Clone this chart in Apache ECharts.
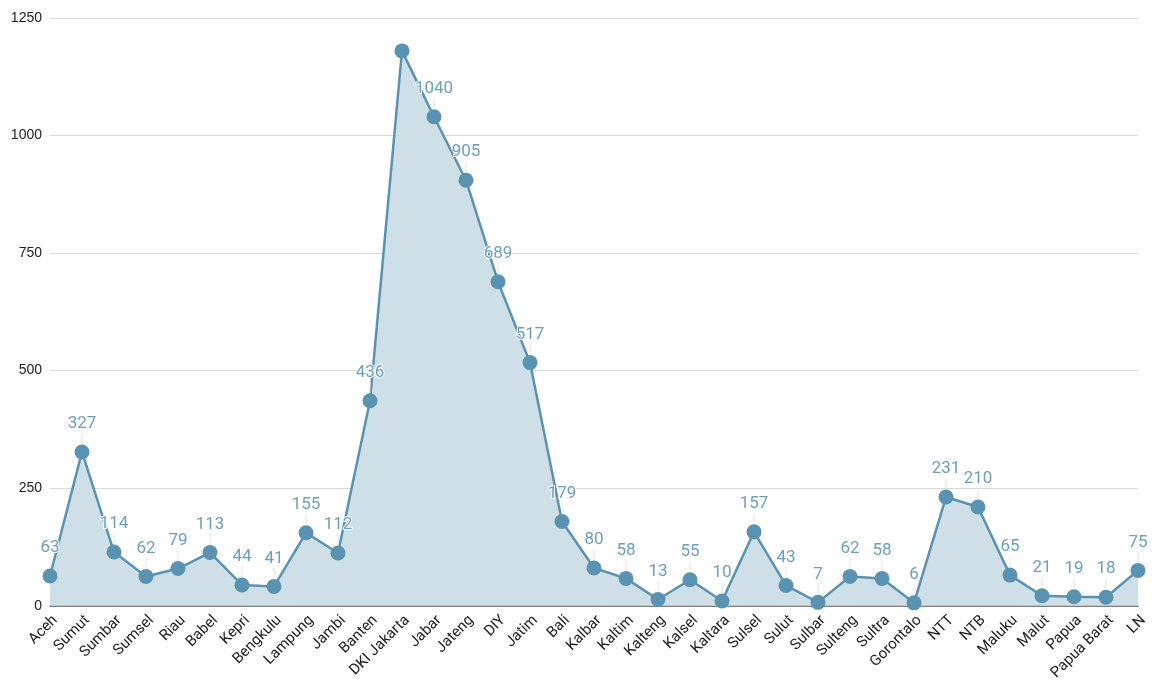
<!DOCTYPE html>
<html>
<head>
<meta charset="utf-8">
<script src="https://cdn.jsdelivr.net/npm/echarts@6/dist/echarts.min.js"></script>
<style>
  html, body { margin: 0; padding: 0; background: #fff; }
  #chart { width: 1152px; height: 683px; }
</style>
</head>
<body>
<div id="chart"></div>
<script>
// Provinces (and overseas) along the x axis
const provinces = ['Aceh', 'Sumut', 'Sumbar', 'Sumsel', 'Riau', 'Babel', 'Kepri', 'Bengkulu', 'Lampung', 'Jambi',
  'Banten', 'DKI Jakarta', 'Jabar', 'Jateng', 'DIY', 'Jatim', 'Bali', 'Kalbar', 'Kaltim', 'Kalteng',
  'Kalsel', 'Kaltara', 'Sulsel', 'Sulut', 'Sulbar', 'Sulteng', 'Sultra', 'Gorontalo', 'NTT', 'NTB',
  'Maluku', 'Malut', 'Papua', 'Papua Barat', 'LN'];

// Count per province
const counts = [63, 327, 114, 62, 79, 113, 44, 41, 155, 112,
  436, 1180, 1040, 905, 689, 517, 179, 80, 58, 13,
  55, 10, 157, 43, 7, 62, 58, 6, 231, 210,
  65, 21, 19, 18, 75];

// Categories whose value label is not drawn
const hiddenLabels = ['DKI Jakarta'];

const yTicks = { min: 0, max: 1250, interval: 250 };

const chart = echarts.init(document.getElementById('chart'));

const seriesData = counts.map((v, i) => {
  const item = { value: v };
  if (hiddenLabels.includes(provinces[i])) {
    item.label = { show: false };
    item.labelLine = { show: false };
  }
  return item;
});

chart.setOption({
  animation: false,
  textStyle: { fontFamily: 'Roboto, Arial, sans-serif' },
  grid: { left: 50, right: 14, top: 18, bottom: 77, containLabel: false },
  xAxis: {
    type: 'category',
    data: provinces,
    boundaryGap: false,
    axisLine: { show: true, lineStyle: { color: '#555', width: 1.5 } },
    axisTick: { show: false },
    axisLabel: {
      rotate: 45, interval: 0, color: '#222', fontSize: 15, margin: 7,
      verticalAlign: 'top', fontFamily: 'Roboto, Arial, sans-serif'
    },
    splitLine: { show: false }
  },
  yAxis: {
    type: 'value',
    min: yTicks.min,
    max: yTicks.max,
    interval: yTicks.interval,
    axisLine: { show: false },
    axisTick: { show: false },
    axisLabel: {
      color: '#222', fontSize: 14, margin: 8, fontFamily: 'Arial, "Liberation Sans", sans-serif',
      formatter: v => String(v)
    },
    splitLine: { lineStyle: { color: '#d9d9d9', width: 1 } }
  },
  series: [{
    type: 'line',
    data: seriesData,
    symbol: 'circle',
    symbolSize: 15,
    lineStyle: { color: '#5a93b1', width: 2.5 },
    itemStyle: { color: '#5a93b1' },
    areaStyle: { color: '#cfdfe7', opacity: 1 },
    label: {
      show: true,
      position: 'top',
      distance: 6,
      color: '#6a9fbd',
      fontSize: 17,
      textBorderColor: '#fff',
      textBorderWidth: 2,
      fontFamily: 'Roboto, Arial, sans-serif'
    },
    labelLayout: { dy: -6 },
    labelLine: { show: true, lineStyle: { color: '#e2e2e2', width: 1 } },
    z: 3
  }]
});
</script>
</body>
</html>
